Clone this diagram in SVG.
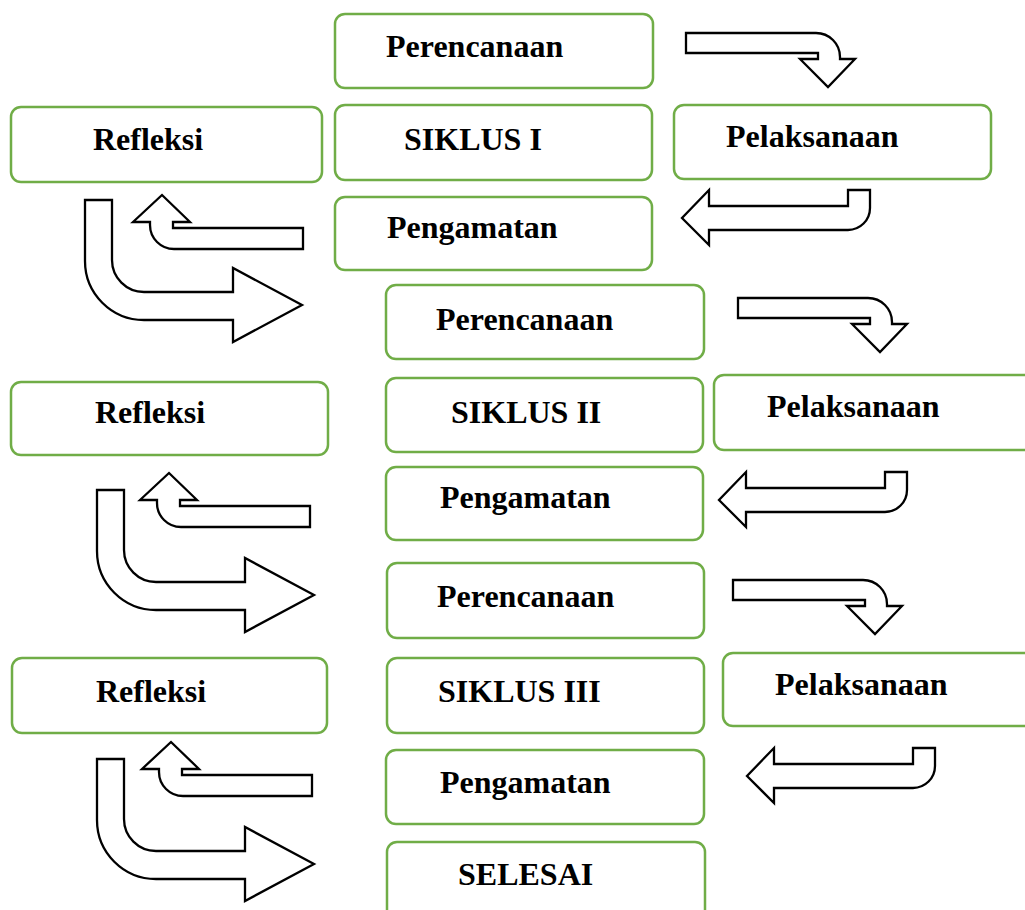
<svg xmlns="http://www.w3.org/2000/svg" width="1025" height="910" viewBox="0 0 1025 910">
<defs>
<style>
.box{fill:#fff;stroke:#70AD47;stroke-width:2.5}
.t{font-family:"Liberation Serif","Times New Roman",serif;font-weight:bold;font-size:32px;fill:#000}
.ar{fill:#fff;stroke:#000;stroke-width:2.3;stroke-linejoin:miter}
</style>
<path id="arD" d="M686,33 H816 A24,24 0 0 1 840,57 V59 H855 L828,87 L800,59 H818 V53 H686 Z"/>
<path id="arL" d="M870,190 V208 A22,22 0 0 1 848,230 H709 V245 L682,218 L709,190 V206 H848 V190 Z"/>
<path id="arBig" d="M85,200 H112 V260 A32,32 0 0 0 144,292 H233 V268 L302,305 L233,342 V320 H144 A59,59 0 0 1 85,261 Z"/>
<path id="arUp" d="M162,195 L190,222 H173 V228 H303 V249 H174 A24,24 0 0 1 150,225 V222 H133 Z"/>
</defs>
<rect width="1025" height="910" fill="#fff"/>
<g id="connectors">
<use href="#arD" class="ar"/>
<use href="#arL" class="ar"/>
<use href="#arBig" class="ar"/>
<use href="#arUp" class="ar"/>
<use href="#arD" class="ar" transform="translate(52,265)"/>
<use href="#arL" class="ar" transform="translate(37,282)"/>
<use href="#arBig" class="ar" transform="translate(12,290)"/>
<use href="#arUp" class="ar" transform="translate(7,278)"/>
<use href="#arD" class="ar" transform="translate(47,547)"/>
<use href="#arL" class="ar" transform="translate(65,558)"/>
<use href="#arBig" class="ar" transform="translate(12,559)"/>
<use href="#arUp" class="ar" transform="translate(9,547)"/>
</g>
<g id="perencanaan1"><rect class="box" x="335" y="14" width="318" height="74" rx="10"/><text class="t" x="386" y="57">Perencanaan</text></g>
<g id="refleksi1"><rect class="box" x="11" y="107" width="311" height="75" rx="10"/><text class="t" x="93" y="150">Refleksi</text></g>
<g id="siklus1"><rect class="box" x="335" y="105" width="317" height="75" rx="10"/><text class="t" x="404" y="150">SIKLUS I</text></g>
<g id="pelaksanaan1"><rect class="box" x="674" y="105" width="317" height="74" rx="10"/><text class="t" x="726" y="147">Pelaksanaan</text></g>
<g id="pengamatan1"><rect class="box" x="335" y="197" width="317" height="73" rx="10"/><text class="t" x="387" y="238">Pengamatan</text></g>

<g id="perencanaan2"><rect class="box" x="386" y="285" width="318" height="74" rx="10"/><text class="t" x="436" y="330">Perencanaan</text></g>
<g id="refleksi2"><rect class="box" x="11" y="382" width="317" height="73" rx="10"/><text class="t" x="95" y="423">Refleksi</text></g>
<g id="siklus2"><rect class="box" x="386" y="378" width="317" height="74" rx="10"/><text class="t" x="451" y="423">SIKLUS II</text></g>
<g id="pelaksanaan2"><rect class="box" x="714" y="375" width="320" height="75" rx="10"/><text class="t" x="767" y="417">Pelaksanaan</text></g>
<g id="pengamatan2"><rect class="box" x="386" y="467" width="317" height="73" rx="10"/><text class="t" x="440" y="508">Pengamatan</text></g>

<g id="perencanaan3"><rect class="box" x="387" y="563" width="317" height="75" rx="10"/><text class="t" x="437" y="607">Perencanaan</text></g>
<g id="refleksi3"><rect class="box" x="12" y="658" width="315" height="75" rx="10"/><text class="t" x="96" y="702">Refleksi</text></g>
<g id="siklus3"><rect class="box" x="387" y="658" width="317" height="75" rx="10"/><text class="t" x="438" y="702">SIKLUS III</text></g>
<g id="pelaksanaan3"><rect class="box" x="723" y="653" width="315" height="73" rx="10"/><text class="t" x="775" y="695">Pelaksanaan</text></g>
<g id="pengamatan3"><rect class="box" x="386" y="750" width="318" height="74" rx="10"/><text class="t" x="440" y="793">Pengamatan</text></g>
<g id="selesai"><rect class="box" x="387" y="842" width="318" height="80" rx="10"/><text class="t" x="458" y="885">SELESAI</text></g>
</svg>
